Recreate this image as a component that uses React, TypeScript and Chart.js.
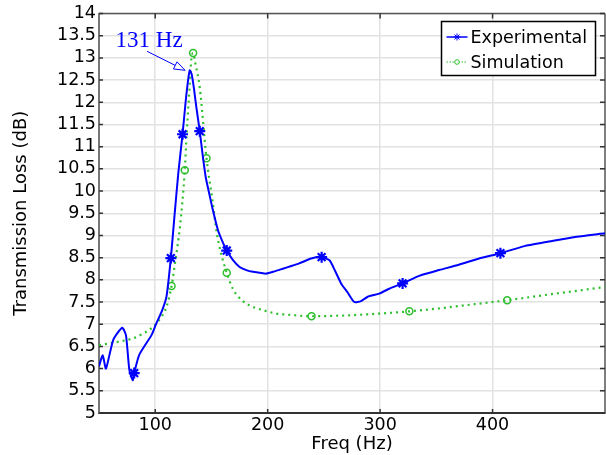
import React, { useEffect, useRef } from "react";
import { Chart, registerables } from "chart.js";

Chart.register(...registerables);

// ---- data ----
const expFreq = [50, 53.3, 56.2, 62.7, 70.7, 74, 77, 80, 81.3, 85.8, 96.8, 101, 106, 110, 113.9, 117, 120.5, 124.3, 127, 129, 130.7, 132.5, 134.5, 136.5, 139.6, 142, 145, 148, 151, 155.9, 160, 163.6, 169, 175, 181, 187, 193, 198.8, 206, 213.5, 221, 228, 238.7, 248, 255, 260, 265.3, 271, 277, 283, 289, 299.3, 308, 320, 334.8, 352.6, 370, 388, 407, 428.3, 448, 472, 500];
const expTL = [6.05, 6.3, 6.0, 6.65, 6.92, 6.75, 5.97, 5.74, 5.9, 6.31, 6.76, 7.02, 7.3, 7.62, 8.49, 9.4, 10.4, 11.28, 12.0, 12.45, 12.72, 12.62, 12.3, 11.9, 11.35, 10.85, 10.3, 9.95, 9.6, 9.11, 8.85, 8.66, 8.45, 8.29, 8.22, 8.18, 8.16, 8.14, 8.19, 8.25, 8.31, 8.37, 8.48, 8.51, 8.44, 8.2, 7.92, 7.72, 7.5, 7.52, 7.62, 7.69, 7.8, 7.92, 8.09, 8.22, 8.34, 8.48, 8.6, 8.76, 8.85, 8.96, 9.05];
const expMarkerFreq = [81.3, 113.9, 124.3, 139.6, 163.6, 248, 320, 407];

const simFreq = [50, 60, 70, 80, 90, 98, 105, 110, 114.5, 118, 122, 126.3, 128, 130.7, 132.2, 133.7, 135.5, 139.6, 145.6, 151, 154.4, 158, 163.6, 169, 178, 187, 198, 207.7, 220, 239, 260, 280, 300, 326, 350, 380, 413, 450, 480, 500];
const simTL = [6.53, 6.57, 6.62, 6.68, 6.8, 6.94, 7.15, 7.39, 7.86, 8.45, 9.2, 10.47, 11.3, 12.4, 13.0, 13.11, 12.9, 12.33, 10.74, 9.78, 9.11, 8.65, 8.16, 7.8, 7.52, 7.39, 7.3, 7.24, 7.21, 7.18, 7.19, 7.21, 7.24, 7.29, 7.35, 7.44, 7.54, 7.67, 7.77, 7.84];
const simMarkerFreq = [114.5, 126.3, 133.7, 145.6, 163.6, 239, 326, 413];

const xTicks = [100, 200, 300, 400];
const yTicks = [5, 5.5, 6, 6.5, 7, 7.5, 8, 8.5, 9, 9.5, 10, 10.5, 11, 11.5, 12, 12.5, 13, 13.5, 14];

const seriesLabels = ["Experimental", "Simulation"];
const annotText = "131 Hz";
const annotFreq = 131;
const annotTL = 12.72;

const BLUE = "#0000ff";
const GREEN = "#2dbf2d";
const FONT = "'DejaVu Sans', sans-serif";

const framePlugin = {
  id: "frame",
  beforeDatasetsDraw(chart: any) {
    const { ctx, chartArea: a, scales } = chart;
    ctx.save();
    ctx.strokeStyle = "#555";
    ctx.lineWidth = 1.5;
    ctx.beginPath();
    ctx.moveTo(a.left, a.top);
    ctx.lineTo(a.right, a.top);
    ctx.moveTo(a.right, a.top);
    ctx.lineTo(a.right, a.bottom);
    ctx.stroke();
    ctx.strokeStyle = "#333";
    ctx.lineWidth = 1.5;
    ctx.beginPath();
    for (const v of xTicks) {
      const px = scales.x.getPixelForValue(v);
      ctx.moveTo(px, a.top);
      ctx.lineTo(px, a.top + 5);
      ctx.moveTo(px, a.bottom);
      ctx.lineTo(px, a.bottom - 4);
    }
    for (const v of yTicks) {
      const py = scales.y.getPixelForValue(v);
      ctx.moveTo(a.right, py);
      ctx.lineTo(a.right - 5, py);
      ctx.moveTo(a.left, py);
      ctx.lineTo(a.left + 4, py);
    }
    ctx.stroke();
    ctx.restore();
  },
};

function drawStar(ctx: CanvasRenderingContext2D, x: number, y: number, r: number) {
  ctx.beginPath();
  for (let i = 0; i < 4; i++) {
    const ang = (i * Math.PI) / 4;
    ctx.moveTo(x - r * Math.cos(ang), y - r * Math.sin(ang));
    ctx.lineTo(x + r * Math.cos(ang), y + r * Math.sin(ang));
  }
  ctx.stroke();
}

const overlayPlugin = {
  id: "overlay",
  afterDatasetsDraw(chart: any) {
    const { ctx, scales } = chart;
    ctx.save();
    // annotation
    const tipX = scales.x.getPixelForValue(annotFreq) - 5;
    const tipY = scales.y.getPixelForValue(annotTL);
    const startX = tipX - 38;
    const startY = tipY - 19;
    ctx.strokeStyle = BLUE;
    ctx.lineWidth = 1;
    const ang = Math.atan2(tipY - startY, tipX - startX);
    const hl = 11;
    const hw = 4;
    const bx = tipX - hl * Math.cos(ang);
    const by = tipY - hl * Math.sin(ang);
    ctx.beginPath();
    ctx.moveTo(startX, startY);
    ctx.lineTo(bx, by);
    ctx.stroke();
    ctx.beginPath();
    ctx.moveTo(tipX, tipY);
    ctx.lineTo(bx + hw * Math.sin(ang), by - hw * Math.cos(ang));
    ctx.lineTo(bx - hw * Math.sin(ang), by + hw * Math.cos(ang));
    ctx.closePath();
    ctx.fillStyle = "#fff";
    ctx.fill();
    ctx.stroke();
    ctx.fillStyle = BLUE;
    ctx.font = "23px 'Liberation Serif', 'Times New Roman', serif";
    ctx.textAlign = "center";
    ctx.textBaseline = "alphabetic";
    ctx.fillText(annotText, startX + 2, startY - 4);

    // legend
    const lx = 441.5, ly = 21.5, lw = 154, lh = 54;
    ctx.fillStyle = "#fff";
    ctx.fillRect(lx, ly, lw, lh);
    ctx.strokeStyle = "#000";
    ctx.lineWidth = 1.5;
    ctx.strokeRect(lx, ly, lw, lh);
    const rows = [ly + 15.5, ly + 40.5];
    ctx.strokeStyle = BLUE;
    ctx.lineWidth = 1.5;
    ctx.beginPath();
    ctx.moveTo(lx + 5, rows[0]);
    ctx.lineTo(lx + 26, rows[0]);
    ctx.stroke();
    ctx.lineWidth = 1;
    drawStar(ctx, lx + 15.5, rows[0], 3.5);
    ctx.strokeStyle = GREEN;
    ctx.lineWidth = 1;
    ctx.setLineDash([1.5, 1.5]);
    ctx.beginPath();
    ctx.moveTo(lx + 5, rows[1]);
    ctx.lineTo(lx + 26, rows[1]);
    ctx.stroke();
    ctx.setLineDash([]);
    ctx.beginPath();
    ctx.arc(lx + 15.5, rows[1], 2.3, 0, Math.PI * 2);
    ctx.fillStyle = "#fff";
    ctx.fill();
    ctx.stroke();
    ctx.fillStyle = "#000";
    ctx.font = "17.5px " + FONT;
    ctx.textAlign = "left";
    ctx.textBaseline = "middle";
    ctx.fillText(chart.data.datasets[0].label, lx + 29, rows[0] + 1);
    ctx.fillText(chart.data.datasets[1].label, lx + 29, rows[1] + 1);
    ctx.restore();
  },
};

export default function App() {
  const ref = useRef<HTMLCanvasElement | null>(null);
  useEffect(() => {
    if (!ref.current) return;
    const expData = expFreq.map((f, i) => ({ x: f, y: expTL[i] }));
    const simData = simFreq.map((f, i) => ({ x: f, y: simTL[i] }));
    const chart = new Chart(ref.current, {
      type: "line",
      data: {
        datasets: [
          {
            label: seriesLabels[0],
            data: expData,
            borderColor: BLUE,
            borderWidth: 2,
            pointStyle: "star",
            pointRadius: expFreq.map((f) => (expMarkerFreq.includes(f) ? 5.5 : 0)),
            pointBorderColor: BLUE,
            pointBorderWidth: 2.2,
            pointBackgroundColor: BLUE,
            tension: 0.2,
            fill: false,
          },
          {
            label: seriesLabels[1],
            data: simData,
            borderColor: GREEN,
            borderWidth: 2.2,
            borderDash: [2, 4],
            pointStyle: "circle",
            pointRadius: simFreq.map((f) => (simMarkerFreq.includes(f) ? 3.5 : 0)),
            pointBorderColor: GREEN,
            pointBorderWidth: 1.5,
            pointBackgroundColor: "rgba(255,255,255,0)",
            cubicInterpolationMode: "monotone",
            fill: false,
          },
        ],
      },
      options: {
        animation: false,
        responsive: false,
        devicePixelRatio: 1,
        layout: { padding: { top: 12, right: 1, left: 0, bottom: 0 } },
        plugins: { legend: { display: false }, tooltip: { enabled: false }, title: { display: false } },
        scales: {
          x: {
            type: "linear",
            min: 50,
            max: 500,
            afterBuildTicks: (s: any) => {
              s.ticks = xTicks.map((v) => ({ value: v }));
            },
            afterFit: (s: any) => {
              s.height = 42;
            },
            grid: { color: "#e2e2e2", lineWidth: 1.5, drawTicks: false },
            border: { color: "#333", width: 2 },
            ticks: { color: "#000", font: { family: FONT, size: 17.5 }, padding: 2, maxRotation: 0, autoSkip: false, callback: (v: any) => String(v) },
            title: { display: true, text: "Freq (Hz)", color: "#000", font: { family: FONT, size: 18 }, padding: { top: 0, bottom: 0 } },
          },
          y: {
            type: "linear",
            min: 5,
            max: 14,
            afterBuildTicks: (s: any) => {
              s.ticks = yTicks.map((v) => ({ value: v }));
            },
            afterFit: (s: any) => {
              s.width = 99;
            },
            grid: { color: "#e2e2e2", lineWidth: 1.5, drawTicks: false },
            border: { color: "#777", width: 2 },
            ticks: { color: "#000", font: { family: FONT, size: 17.5 }, padding: 3, autoSkip: false, callback: (v: any) => String(v) },
            title: { display: true, text: "Transmission Loss (dB)", color: "#000", font: { family: FONT, size: 18 }, padding: { top: 11, bottom: 0 } },
          },
        },
      },
      plugins: [framePlugin, overlayPlugin],
    } as any);
    return () => chart.destroy();
  }, []);
  return (
    <div style={{ position: "fixed", left: 0, top: 0, width: 606, height: 455, background: "#fff" }}>
      <canvas ref={ref} width={606} height={455} style={{ width: 606, height: 455, display: "block" }} />
    </div>
  );
}
